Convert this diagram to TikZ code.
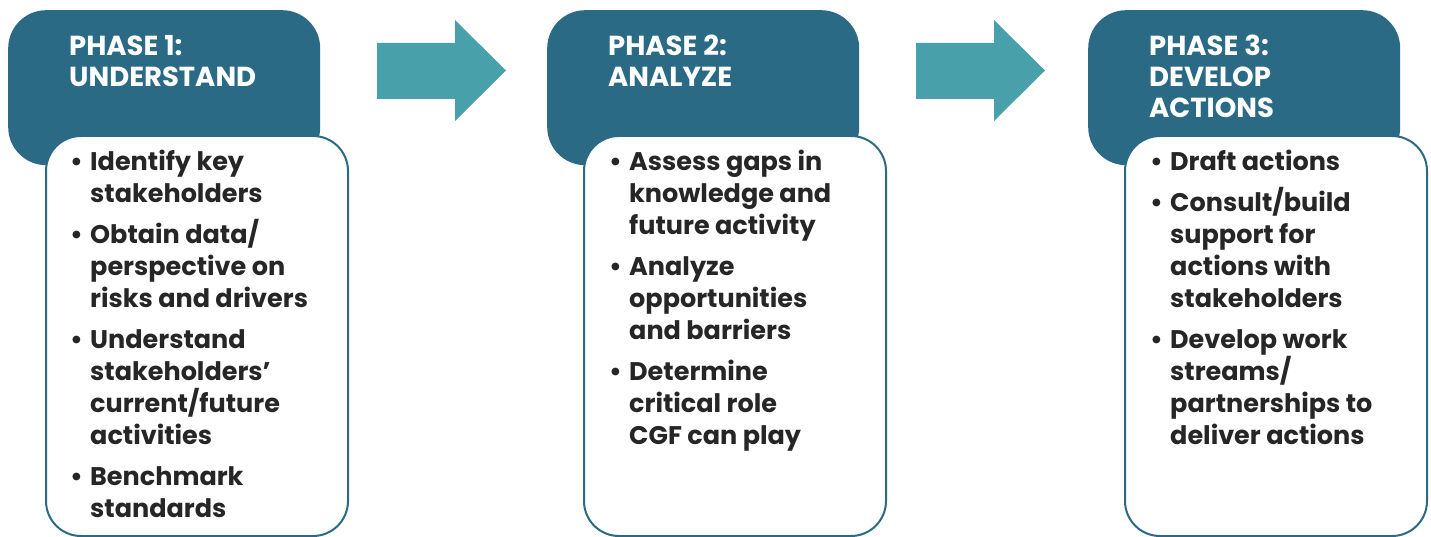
\documentclass[tikz,border=0pt]{standalone}
\usepackage{fontspec}
\setmainfont{Poppins}
\definecolor{hdr}{RGB}{43,106,133}
\definecolor{arr}{RGB}{72,160,170}
\definecolor{txt}{RGB}{38,38,38}
\newcommand{\bitem}[1]{\makebox[20pt][l]{\textbullet}#1}
\newcommand{\contl}[1]{\hspace*{20pt}#1}
\begin{document}
\begin{tikzpicture}[x=1pt,y=-1pt,
  header/.style={fill=hdr,draw=none,rounded corners=38pt,minimum width=312pt,minimum height=155pt,anchor=north west,inner sep=0pt},
  card/.style={fill=white,draw=hdr,line width=2pt,rounded corners=35pt,minimum width=302pt,minimum height=400pt,anchor=north west,inner sep=0pt},
  htext/.style={anchor=north west,inner sep=0pt,align=left,text=white,font=\fontsize{27.5}{31}\selectfont\bfseries},
  btext/.style={anchor=north west,inner sep=0pt,align=left,text=txt,font=\fontsize{25.5}{32}\selectfont\bfseries},
  blockarrow/.style={fill=arr,draw=none}]
\useasboundingbox (0,0) rectangle (1431,537);
% Phase 1
\node[header] (h1) at (8,10) {};
\node[card] (c1) at (45,135) {};
\node[htext] (t1) at (69,35) {PHASE 1:\\UNDERSTAND};
\node[btext] (b1) at (70,150) {\bitem{Identify key}\\ \contl{stakeholders}\\[9pt]
\bitem{Obtain data/}\\ \contl{perspective on}\\ \contl{risks and drivers}\\[9pt]
\bitem{Understand}\\ \contl{stakeholders’}\\ \contl{current/future}\\ \contl{activities}\\[9pt]
\bitem{Benchmark}\\ \contl{standards}};
% Arrow 1
\fill[blockarrow] (377,43) -- (455,43) -- (455,20) -- (506,70.5) -- (455,121) -- (455,99) -- (377,99) -- cycle;
% Phase 2
\node[header] (h2) at (547,10) {};
\node[card] (c2) at (583,135) {};
\node[htext] (t2) at (608,35) {PHASE 2:\\ANALYZE};
\node[btext] (b2) at (609,150) {\bitem{Assess gaps in}\\ \contl{knowledge and}\\ \contl{future activity}\\[9pt]
\bitem{Analyze}\\ \contl{opportunities}\\ \contl{and barriers}\\[9pt]
\bitem{Determine}\\ \contl{critical role}\\ \contl{CGF can play}};
% Arrow 2
\fill[blockarrow] (916,43) -- (994,43) -- (994,20) -- (1045,70.5) -- (994,121) -- (994,99) -- (916,99) -- cycle;
% Phase 3
\node[header] (h3) at (1088,10) {};
\node[card] (c3) at (1124,135) {};
\node[htext] (t3) at (1149,35) {PHASE 3:\\DEVELOP\\ACTIONS};
\node[btext] (b3) at (1150,150) {\bitem{Draft actions}\\[9pt]
\bitem{Consult/build}\\ \contl{support for}\\ \contl{actions with}\\ \contl{stakeholders}\\[9pt]
\bitem{Develop work}\\ \contl{streams/}\\ \contl{partnerships to}\\ \contl{deliver actions}};
\end{tikzpicture}
\end{document}
